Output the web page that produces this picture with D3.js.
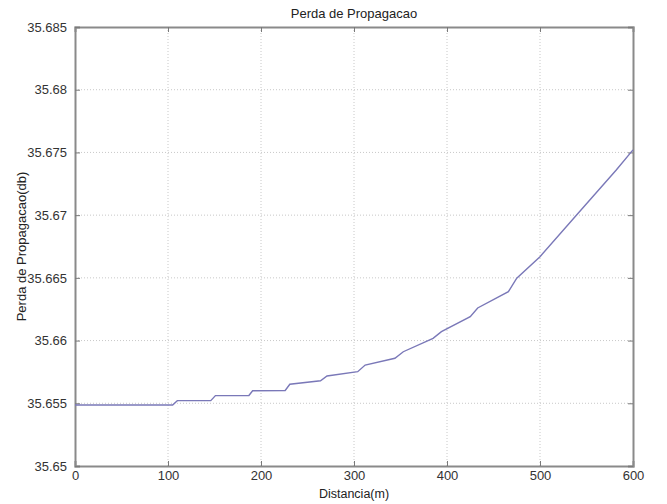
<!DOCTYPE html>
<html>
<head>
<meta charset="utf-8">
<script src="https://cdn.jsdelivr.net/npm/d3@7"></script>
<style>
  body { margin: 0; background: #fff; }
  text { font-family: "Liberation Sans", Arial, sans-serif; }
</style>
</head>
<body>
<script>
// data
const distancia = [0, 105, 110, 146, 151, 187, 191, 226, 231, 264, 271, 304, 312, 344, 353, 385, 394, 425, 433, 466, 475, 500, 541, 582, 600]
const perda = [35.65486, 35.65486, 35.65521, 35.65521, 35.65561, 35.65562, 35.65600, 35.65602, 35.65652, 35.65680, 35.65718,
               35.65752, 35.65805, 35.65859, 35.65911, 35.66018, 35.66071, 35.66191, 35.66260, 35.66390, 35.66497,
               35.66669, 35.67015, 35.67360, 35.67520]
const x_ticks = [0, 100, 200, 300, 400, 500, 600]
const y_ticks = [35.65, 35.655, 35.66, 35.665, 35.67, 35.675, 35.68, 35.685]

// layout
const width = 667, height = 504
const margin = {left: 75, top: 27, right: 34, bottom: 38}
const plot_w = width - margin.left - margin.right
const plot_h = height - margin.top - margin.bottom

const svg = d3.select('body').append('svg')
    .attr('width', width)
    .attr('height', height)

const x = d3.scaleLinear().domain([0, 600]).range([margin.left, margin.left + plot_w])
const y = d3.scaleLinear().domain([35.65, 35.685]).range([margin.top + plot_h, margin.top])

// grid
svg.append('g')
    .selectAll('line')
    .data(x_ticks.slice(1, -1))
    .enter()
    .append('line')
    .attr('x1', d => x(d)).attr('x2', d => x(d))
    .attr('y1', margin.top).attr('y2', margin.top + plot_h)
    .style('stroke', '#c8c8c8')
    .style('stroke-dasharray', '1,2')
svg.append('g')
    .selectAll('line')
    .data(y_ticks.slice(1, -1))
    .enter()
    .append('line')
    .attr('y1', d => y(d)).attr('y2', d => y(d))
    .attr('x1', margin.left).attr('x2', margin.left + plot_w)
    .style('stroke', '#c8c8c8')
    .style('stroke-dasharray', '1,2')

// axes, ticks inward
const tick_len = 5
const fmt_y = d => d3.format('')(+d.toFixed(3))
const bottom = svg.append('g')
    .attr('transform', `translate(0,${margin.top + plot_h})`)
    .call(d3.axisBottom(x).tickValues(x_ticks).tickSize(-tick_len).tickPadding(5).tickFormat(d3.format('d')))
const top_ax = svg.append('g')
    .attr('transform', `translate(0,${margin.top})`)
    .call(d3.axisTop(x).tickValues(x_ticks).tickSize(-tick_len).tickFormat(''))
const left = svg.append('g')
    .attr('transform', `translate(${margin.left},0)`)
    .call(d3.axisLeft(y).tickValues(y_ticks).tickSize(-tick_len).tickPadding(8).tickFormat(fmt_y))
const right = svg.append('g')
    .attr('transform', `translate(${margin.left + plot_w},0)`)
    .call(d3.axisRight(y).tickValues(y_ticks).tickSize(-tick_len).tickFormat(''))

for (const ax of [bottom, top_ax, left, right]) {
    ax.select('.domain').style('stroke', '#8a8a8a').style('stroke-width', 2)
    ax.selectAll('.tick line').style('stroke', '#7a7a7a')
    ax.selectAll('.tick text')
        .style('font-size', '13px')
        .style('fill', '#333')
        .style('font-family', '"Liberation Sans", Arial, sans-serif')
}

// line
svg.append('path')
    .datum(distancia.map((d, i) => [d, perda[i]]))
    .attr('d', d3.line().x(d => x(d[0])).y(d => y(d[1])))
    .style('fill', 'none')
    .style('stroke', '#7a78b8')
    .style('stroke-width', 1.4)

// texts
svg.append('text')
    .text('Perda de Propagacao')
    .attr('x', margin.left + plot_w / 2)
    .attr('y', 18)
    .attr('text-anchor', 'middle')
    .style('font-size', '13px')
    .style('fill', '#222')
svg.append('text')
    .text('Distancia(m)')
    .attr('x', margin.left + plot_w / 2)
    .attr('y', 498)
    .attr('text-anchor', 'middle')
    .style('font-size', '12.5px')
    .style('fill', '#222')
svg.append('text')
    .text('Perda de Propagacao(db)')
    .attr('transform', `translate(26,${margin.top + plot_h / 2}) rotate(-90)`)
    .attr('text-anchor', 'middle')
    .style('font-size', '13px')
    .style('fill', '#222')
</script>
</body>
</html>
